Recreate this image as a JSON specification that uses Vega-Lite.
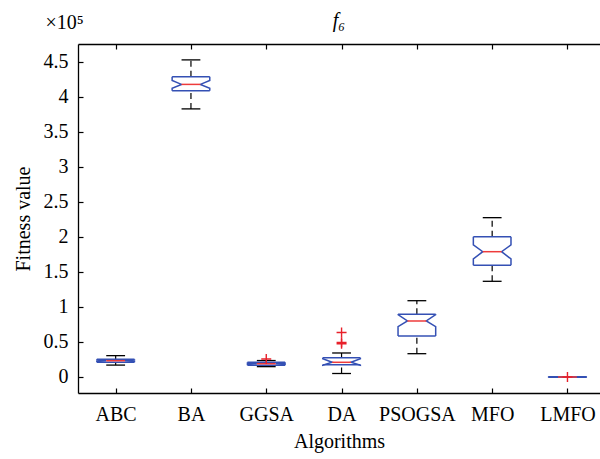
{
  "$schema": "https://vega.github.io/schema/vega-lite/v6.json",
  "width": 522,
  "height": 349,
  "autosize": {"type": "none"},
  "padding": {"left": 78, "top": 44, "right": 0, "bottom": 66},
  "background": "white",
  "title": {
    "text": "f₆",
    "frame": "group",
    "anchor": "middle",
    "font": "Liberation Serif",
    "fontSize": 20,
    "fontStyle": "italic",
    "fontWeight": "normal",
    "color": "black",
    "offset": -19
  },
  "config": {
    "view": {"stroke": null},
    "axis": {
      "grid": false,
      "domainColor": "black",
      "domainWidth": 1.3,
      "tickColor": "black",
      "tickWidth": 1.2,
      "labelFont": "Liberation Serif",
      "labelFontSize": 20,
      "labelColor": "black",
      "labelOverlap": false,
      "titleFont": "Liberation Serif",
      "titleFontSize": 20,
      "titleFontWeight": "normal",
      "titleColor": "black"
    },
    "axisY": {
      "tickCount": 10,
      "labelOverlap": false,
      "labelSeparation": 0,
      "tickSize": -5,
      "labelPadding": 15,
      "titlePadding": 10
    }
  },
  "datasets": {
    "boxes": [
      {"algorithm": "ABC", "lo": 0.17, "q1": 0.21, "nlo": 0.222, "med": 0.233, "nhi": 0.244, "q3": 0.255, "hi": 0.305},
      {"algorithm": "BA", "lo": 3.83, "q1": 4.09, "nlo": 4.125, "med": 4.18, "nhi": 4.237, "q3": 4.29, "hi": 4.53},
      {"algorithm": "GGSA", "lo": 0.148, "q1": 0.168, "nlo": 0.18, "med": 0.19, "nhi": 0.2, "q3": 0.21, "hi": 0.235},
      {"algorithm": "DA", "lo": 0.05, "q1": 0.175, "nlo": 0.168, "med": 0.21, "nhi": 0.262, "q3": 0.276, "hi": 0.343},
      {"algorithm": "PSOGSA", "lo": 0.333, "q1": 0.586, "nlo": 0.719, "med": 0.8, "nhi": 0.89, "q3": 0.896, "hi": 1.09},
      {"algorithm": "MFO", "lo": 1.367, "q1": 1.596, "nlo": 1.686, "med": 1.79, "nhi": 1.886, "q3": 2.004, "hi": 2.276},
      {"algorithm": "LMFO", "lo": -0.003, "q1": -0.002, "nlo": -0.001, "med": 0.0, "nhi": 0.001, "q3": 0.002, "hi": 0.003}
    ],
    "outliers": [
      {"algorithm": "GGSA", "value": 0.258},
      {"algorithm": "DA", "value": 0.635},
      {"algorithm": "DA", "value": 0.495},
      {"algorithm": "DA", "value": 0.475},
      {"algorithm": "LMFO", "value": 0.0}
    ]
  },
  "layer": [
    {
      "data": {"name": "boxes"},
      "transform": [
        {"calculate": "indexof(['ABC','BA','GGSA','DA','PSOGSA','MFO','LMFO'], datum.algorithm) + 1", "as": "pos"}
      ],
      "mark": {"type": "rule", "color": "black", "strokeWidth": 1.2, "strokeDash": [6, 4]},
      "encoding": {
        "x": {
          "field": "pos", "type": "quantitative",
          "scale": {"domain": [0.5, 7.432], "nice": false, "zero": false},
          "axis": {
            "orient": "bottom",
            "values": [1, 2, 3, 4, 5, 6, 7],
            "labelExpr": "['ABC','BA','GGSA','DA','PSOGSA','MFO','LMFO'][datum.value - 1]",
            "tickSize": -5,
            "labelPadding": 16,
            "title": "Algorithms",
            "titlePadding": 7
          }
        },
        "y": {
          "field": "q3", "type": "quantitative",
          "scale": {"domain": [-0.2286, 4.757], "nice": false, "zero": false},
          "axis": {
            "values": [0, 0.5, 1, 1.5, 2, 2.5, 3, 3.5, 4, 4.5],
            "format": ".1~f",
            "title": "Fitness value"
          }
        },
        "y2": {"field": "hi"}
      }
    },
    {
      "data": {"name": "boxes"},
      "transform": [
        {"calculate": "indexof(['ABC','BA','GGSA','DA','PSOGSA','MFO','LMFO'], datum.algorithm) + 1", "as": "pos"}
      ],
      "mark": {"type": "rule", "color": "black", "strokeWidth": 1.2, "strokeDash": [6, 4]},
      "encoding": {
        "x": {"field": "pos", "type": "quantitative", "axis": null},
        "y": {"field": "lo", "type": "quantitative", "axis": {"values": [0, 0.5, 1, 1.5, 2, 2.5, 3, 3.5, 4, 4.5], "format": ".1~f", "title": "Fitness value"}},
        "y2": {"field": "q1"}
      }
    },
    {
      "data": {"name": "boxes"},
      "transform": [
        {"calculate": "indexof(['ABC','BA','GGSA','DA','PSOGSA','MFO','LMFO'], datum.algorithm) + 1", "as": "pos"},
        {"fold": ["lo", "hi"], "as": ["end", "v"]},
        {"calculate": "datum.pos - 0.125", "as": "a"},
        {"calculate": "datum.pos + 0.125", "as": "b"}
      ],
      "mark": {"type": "rule", "color": "black", "strokeWidth": 1.3},
      "encoding": {
        "x": {"field": "a", "type": "quantitative", "axis": null},
        "x2": {"field": "b"},
        "y": {"field": "v", "type": "quantitative", "axis": {"values": [0, 0.5, 1, 1.5, 2, 2.5, 3, 3.5, 4, 4.5], "format": ".1~f", "title": "Fitness value"}}
      }
    },
    {
      "data": {"name": "boxes"},
      "transform": [
        {"calculate": "indexof(['ABC','BA','GGSA','DA','PSOGSA','MFO','LMFO'], datum.algorithm) + 1", "as": "pos"},
        {"fold": ["q3", "nhi", "med", "nlo", "q1"], "as": ["corner", "v"]},
        {"calculate": "datum.pos - (datum.corner === 'med' ? 0.125 : 0.25)", "as": "xl"}
      ],
      "mark": {"type": "line", "color": "#3450b4", "strokeWidth": 1.5},
      "encoding": {
        "x": {"field": "xl", "type": "quantitative", "axis": null},
        "y": {"field": "v", "type": "quantitative", "axis": {"values": [0, 0.5, 1, 1.5, 2, 2.5, 3, 3.5, 4, 4.5], "format": ".1~f", "title": "Fitness value"}},
        "detail": {"field": "algorithm"},
        "order": {"value": null}
      }
    },
    {
      "data": {"name": "boxes"},
      "transform": [
        {"calculate": "indexof(['ABC','BA','GGSA','DA','PSOGSA','MFO','LMFO'], datum.algorithm) + 1", "as": "pos"},
        {"fold": ["q3", "nhi", "med", "nlo", "q1"], "as": ["corner", "v"]},
        {"calculate": "datum.pos + (datum.corner === 'med' ? 0.125 : 0.25)", "as": "xr"}
      ],
      "mark": {"type": "line", "color": "#3450b4", "strokeWidth": 1.5},
      "encoding": {
        "x": {"field": "xr", "type": "quantitative", "axis": null},
        "y": {"field": "v", "type": "quantitative", "axis": {"values": [0, 0.5, 1, 1.5, 2, 2.5, 3, 3.5, 4, 4.5], "format": ".1~f", "title": "Fitness value"}},
        "detail": {"field": "algorithm"},
        "order": {"value": null}
      }
    },
    {
      "data": {"name": "boxes"},
      "transform": [
        {"calculate": "indexof(['ABC','BA','GGSA','DA','PSOGSA','MFO','LMFO'], datum.algorithm) + 1", "as": "pos"},
        {"fold": ["q1", "q3"], "as": ["edge", "v"]},
        {"calculate": "datum.pos - 0.25", "as": "a"},
        {"calculate": "datum.pos + 0.25", "as": "b"}
      ],
      "mark": {"type": "rule", "color": "#3450b4", "strokeWidth": 1.5},
      "encoding": {
        "x": {"field": "a", "type": "quantitative", "axis": null},
        "x2": {"field": "b"},
        "y": {"field": "v", "type": "quantitative", "axis": {"values": [0, 0.5, 1, 1.5, 2, 2.5, 3, 3.5, 4, 4.5], "format": ".1~f", "title": "Fitness value"}}
      }
    },
    {
      "data": {"name": "boxes"},
      "transform": [
        {"calculate": "indexof(['ABC','BA','GGSA','DA','PSOGSA','MFO','LMFO'], datum.algorithm) + 1", "as": "pos"},
        {"calculate": "datum.pos - 0.125", "as": "a"},
        {"calculate": "datum.pos + 0.125", "as": "b"}
      ],
      "mark": {"type": "rule", "color": "#ee3b3b", "strokeWidth": 1.5},
      "encoding": {
        "x": {"field": "a", "type": "quantitative", "axis": null},
        "x2": {"field": "b"},
        "y": {"field": "med", "type": "quantitative", "axis": {"values": [0, 0.5, 1, 1.5, 2, 2.5, 3, 3.5, 4, 4.5], "format": ".1~f", "title": "Fitness value"}}
      }
    },
    {
      "data": {"name": "outliers"},
      "transform": [
        {"calculate": "indexof(['ABC','BA','GGSA','DA','PSOGSA','MFO','LMFO'], datum.algorithm) + 1", "as": "pos"}
      ],
      "mark": {"type": "point", "shape": "M-1,0L1,0M0,-1L0,1", "filled": false, "stroke": "#e8202a", "strokeWidth": 1.4, "size": 100, "opacity": 1},
      "encoding": {
        "x": {"field": "pos", "type": "quantitative", "axis": null},
        "y": {"field": "value", "type": "quantitative", "axis": {"values": [0, 0.5, 1, 1.5, 2, 2.5, 3, 3.5, 4, 4.5], "format": ".1~f", "title": "Fitness value"}}
      }
    },
    {
      "data": {"values": [{"pos": 1}]},
      "mark": {"type": "tick", "opacity": 0},
      "encoding": {
        "x": {
          "field": "pos", "type": "quantitative",
          "axis": {
            "orient": "top",
            "values": [1, 2, 3, 4, 5, 6, 7],
            "labels": false,
            "tickSize": -5,
            "title": "×10⁵",
            "titleAnchor": "start",
            "titleAlign": "left",
            "titleBaseline": "alphabetic",
            "titleX": -33,
            "titleY": -16
          }
        }
      }
    }
  ],
  "resolve": {"axis": {"x": "independent"}}
}
